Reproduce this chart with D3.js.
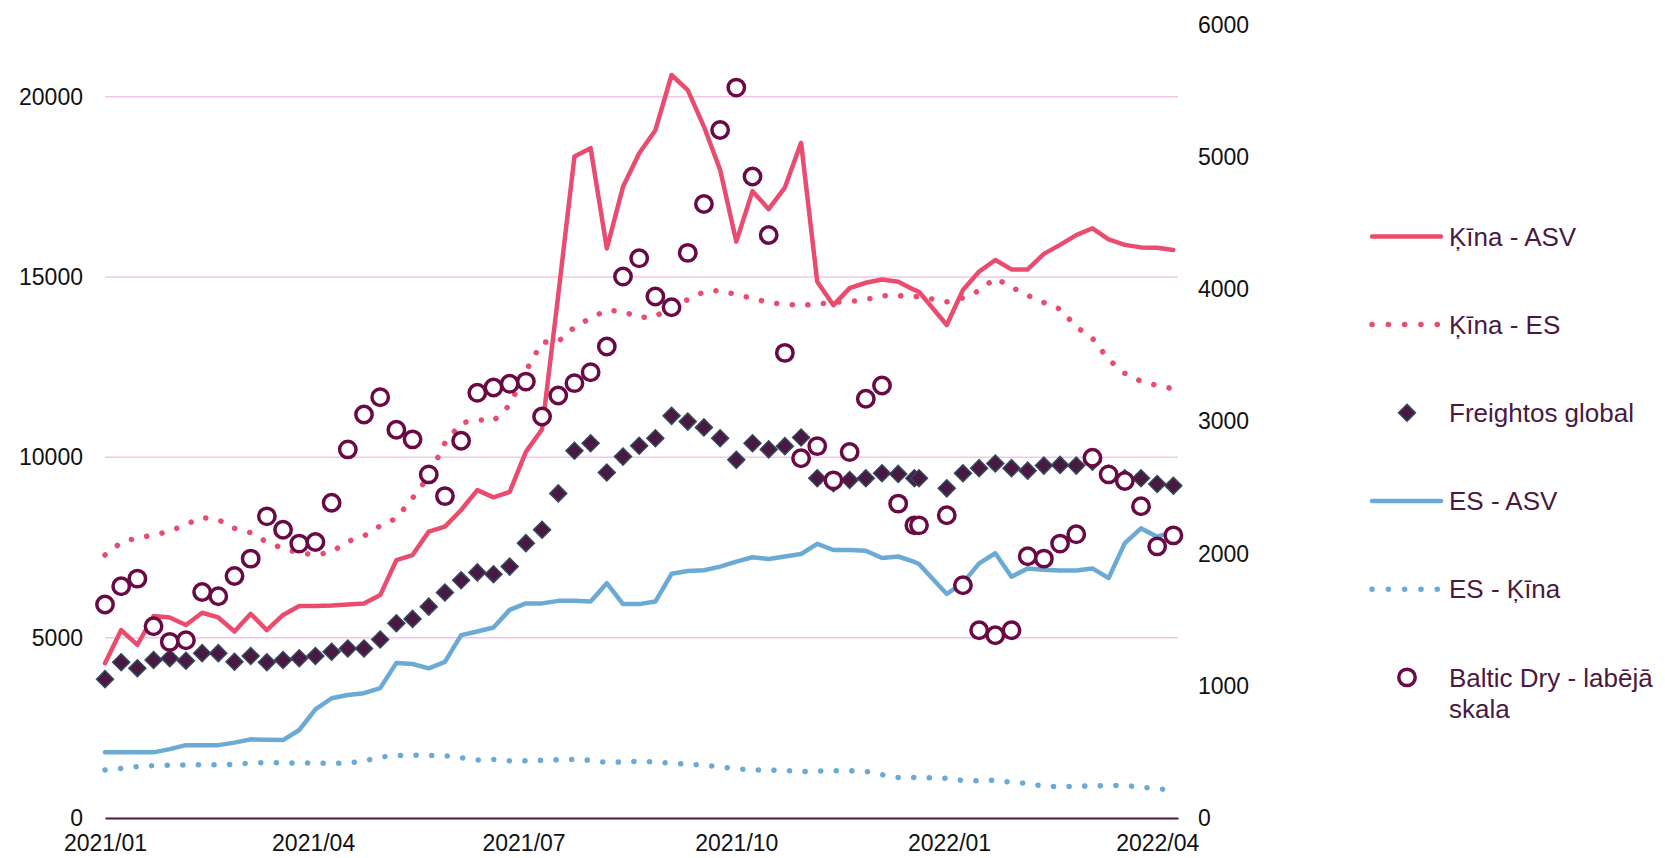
<!DOCTYPE html>
<html>
<head>
<meta charset="utf-8">
<script src="https://cdn.jsdelivr.net/npm/d3@7"></script>
<style>
  body { margin: 0; background: #fff; }
  svg { display: block; font-family: Arial, "Liberation Sans", sans-serif; }
</style>
</head>
<body>
<div id="chart"></div>
<script>
// Weekly observations (one duplicate-ish point before New Year)
const dates = [
  "2021-01-01","2021-01-08","2021-01-15","2021-01-22","2021-01-29","2021-02-05","2021-02-12","2021-02-19",
  "2021-02-26","2021-03-05","2021-03-12","2021-03-19","2021-03-26","2021-04-02","2021-04-09","2021-04-16",
  "2021-04-23","2021-04-30","2021-05-07","2021-05-14","2021-05-21","2021-05-28","2021-06-04","2021-06-11",
  "2021-06-18","2021-06-25","2021-07-02","2021-07-09","2021-07-16","2021-07-23","2021-07-30","2021-08-06",
  "2021-08-13","2021-08-20","2021-08-27","2021-09-03","2021-09-10","2021-09-17","2021-09-24","2021-10-01",
  "2021-10-08","2021-10-15","2021-10-22","2021-10-29","2021-11-05","2021-11-12","2021-11-19","2021-11-26",
  "2021-12-03","2021-12-10","2021-12-17","2021-12-19","2021-12-31","2022-01-07","2022-01-14","2022-01-21",
  "2022-01-28","2022-02-04","2022-02-11","2022-02-18","2022-02-25","2022-03-04","2022-03-11","2022-03-18",
  "2022-03-25","2022-04-01","2022-04-08"
];

const kinaAsv = [
  4290, 5210, 4800, 5600, 5560, 5350, 5690, 5560,
  5170, 5660, 5210, 5630, 5880, 5880, 5890, 5920,
  5950, 6180, 7150, 7290, 7940, 8080, 8540, 9090,
  8890, 9040, 10150, 10780, 14500, 18340, 18570, 15790,
  17500, 18430, 19070, 20600, 20180, 19170, 17970, 15980,
  17380, 16880, 17480, 18720, 14870, 14220, 14690, 14840,
  14930, 14870, 14640, 14590, 13670, 14640, 15150, 15470,
  15210, 15210, 15640, 15890, 16160, 16350, 16040, 15890,
  15820, 15810, 15750
];

const kinaEs = [
  7290, 7640, 7770, 7840, 7950, 8140, 8330, 8270,
  8030, 7910, 7650, 7470, 7350, 7295, 7370, 7670,
  7820, 8100, 8310, 8870, 9470, 10400, 10950, 11040,
  11010, 11450, 12390, 13190, 13210, 13610, 13860, 14080,
  14040, 13880, 13900, 14190, 14370, 14590, 14630, 14510,
  14410, 14290, 14240, 14220, 14240, 14300, 14320, 14370,
  14480, 14480, 14460, 14455, 14310, 14420, 14620, 14970,
  14720, 14490, 14290, 14110, 13620, 13300, 12710, 12330,
  12110, 11990, 11900
];

const freightos = [
  3850, 4320, 4150, 4380, 4430, 4360, 4570, 4570,
  4330, 4490, 4320, 4380, 4430, 4490, 4610, 4700,
  4700, 4950, 5400, 5520, 5860, 6250, 6590, 6810,
  6760, 6970, 7620, 7990, 9000, 10180, 10390, 9580,
  10020, 10320, 10530, 11150, 10990, 10830, 10530, 9930,
  10390, 10220, 10310, 10550, 9420, 9280, 9370, 9420,
  9560, 9540, 9420, 9420, 9140, 9560, 9700, 9830,
  9700, 9630, 9770, 9790, 9770, 9880, 9540, 9420,
  9420, 9260, 9210
];

const esAsv = [
  1820, 1820, 1820, 1820, 1910, 2020, 2020, 2020,
  2090, 2180, 2170, 2160, 2440, 3010, 3320, 3410,
  3460, 3600, 4300, 4270, 4150, 4330, 5070, 5170,
  5280, 5770, 5950, 5950, 6020, 6020, 6000, 6510,
  5930, 5930, 6000, 6770, 6850, 6870, 6970, 7110,
  7230, 7180, 7250, 7320, 7600, 7430, 7430, 7410,
  7210, 7250, 7100, 7040, 6210, 6520, 7060, 7340,
  6690, 6920, 6880, 6860, 6860, 6920, 6650, 7620,
  8030, 7800, 7940
];

const esKina = [
  1330, 1375, 1425, 1455, 1465, 1470, 1475, 1478,
  1490, 1525, 1534, 1528, 1525, 1522, 1515, 1520,
  1580, 1690, 1730, 1737, 1737, 1730, 1670, 1608,
  1620, 1585, 1585, 1600, 1615, 1625, 1600, 1540,
  1555, 1570, 1552, 1515, 1495, 1465, 1420, 1365,
  1335, 1331, 1318, 1290, 1300, 1312, 1310, 1290,
  1200, 1125, 1122, 1125, 1100, 1040, 1035, 1050,
  990, 961, 880, 868, 875, 892, 902, 900,
  860, 810, 780
];

// Baltic Dry index, right-hand scale
const balticDry = [
  1614, 1752, 1810, 1450, 1332, 1344, 1709, 1677,
  1830, 1961, 2281, 2180, 2075, 2087, 2384, 2787,
  3051, 3182, 2936, 2863, 2598, 2434, 2853, 3215,
  3255, 3283, 3300, 3036, 3195, 3288, 3371, 3565,
  4094, 4232, 3943, 3862, 4273, 4643, 5202, 5523,
  4851, 4408, 3517, 2720, 2812, 2553, 2767, 3170,
  3270, 2377, 2213, 2213, 2289, 1760, 1420, 1382,
  1420, 1979, 1961, 2075, 2145, 2724, 2598, 2548,
  2357, 2054, 2137
];

const leftTicks = [0, 5000, 10000, 15000, 20000];
const rightTicks = [0, 1000, 2000, 3000, 4000, 5000, 6000];
const xTickDates = ["2021-01-01", "2021-04-01", "2021-07-01", "2021-10-01", "2022-01-01", "2022-04-01"];

const PINK = "#ea4c6f";
const BLUE = "#6aaad4";
const PLUM = "#4a1942";
const BALTIC = "#6a0a44";

const width = 1665, height = 858;
const plot = { left: 105, right: 1178, top: 24.5, bottom: 818 };

const parse = d3.timeParse("%Y-%m-%d");
const dateObjs = dates.map(parse);

const svg = d3.select("#chart").append("svg")
  .attr("width", width)
  .attr("height", height);

// Scales
const x = d3.scaleTime()
  .domain([parse("2021-01-01"), parse("2022-04-10")])
  .range([plot.left, plot.right]);

const yLeft = d3.scaleLinear().domain([0, 22000]).range([plot.bottom, plot.top]);
const yRight = d3.scaleLinear().domain([0, 6000]).range([plot.bottom, plot.top]);

// Gridlines
svg.append("g")
  .selectAll("line")
  .data(leftTicks.filter(d => d > 0))
  .join("line")
  .attr("x1", plot.left)
  .attr("x2", plot.right)
  .attr("y1", d => yLeft(d))
  .attr("y2", d => yLeft(d))
  .style("stroke", "#f0c8e6")
  .style("stroke-width", 1.5);

// Left axis labels
svg.append("g")
  .selectAll("text")
  .data(leftTicks)
  .join("text")
  .attr("x", 83)
  .attr("y", d => yLeft(d))
  .attr("dy", "0.35em")
  .attr("text-anchor", "end")
  .style("font-size", "23px")
  .style("fill", "#111")
  .text(d => d);

// Right axis labels
svg.append("g")
  .selectAll("text")
  .data(rightTicks)
  .join("text")
  .attr("x", 1198)
  .attr("y", d => yRight(d))
  .attr("dy", "0.35em")
  .style("font-size", "23px")
  .style("fill", "#111")
  .text(d => d);

// X axis
const xAxis = svg.append("g")
  .attr("transform", `translate(0,${plot.bottom})`)
  .call(d3.axisBottom(x)
    .tickValues(xTickDates.map(parse))
    .tickFormat(d3.timeFormat("%Y/%m"))
    .tickSize(0)
    .tickPadding(17));

xAxis.select(".domain").style("stroke", PLUM).style("stroke-width", 2);
xAxis.selectAll("text")
  .style("font-size", "23px")
  .style("font-family", "Arial, 'Liberation Sans', sans-serif")
  .style("fill", "#111");

// Series
const lineGen = scale => d3.line()
  .x((d, i) => x(dateObjs[i]))
  .y(d => scale(d));

const diamond = d3.symbol().type(d3.symbolSquare).size(144);

function drawLine(values, color, dotted) {
  const p = svg.append("path")
    .datum(values)
    .attr("d", lineGen(yLeft))
    .style("fill", "none")
    .style("stroke", color)
    .style("stroke-linejoin", "round")
    .style("stroke-linecap", "round");
  if (dotted) {
    p.style("stroke-width", 5.5).style("stroke-dasharray", "0.1 15.5");
  } else {
    p.style("stroke-width", 4.5);
  }
}

drawLine(kinaAsv, PINK, false);
drawLine(kinaEs, PINK, true);

svg.append("g")
  .selectAll("path")
  .data(freightos)
  .join("path")
  .attr("d", diamond)
  .attr("transform", (d, i) => `translate(${x(dateObjs[i])},${yLeft(d)}) rotate(45)`)
  .style("fill", PLUM)
  .style("stroke", "#34495e")
  .style("stroke-width", 1.5);

drawLine(esAsv, BLUE, false);
drawLine(esKina, BLUE, true);

svg.append("g")
  .selectAll("circle")
  .data(balticDry)
  .join("circle")
  .attr("cx", (d, i) => x(dateObjs[i]))
  .attr("cy", d => yRight(d))
  .attr("r", 8.2)
  .style("fill", "#fff")
  .style("stroke", BALTIC)
  .style("stroke-width", 3.5);

// Legend
const legendItems = [
  { label: ["Ķīna - ASV"], kind: "line", color: PINK },
  { label: ["Ķīna - ES"], kind: "dots", color: PINK },
  { label: ["Freightos global"], kind: "diamond" },
  { label: ["ES - ASV"], kind: "line", color: BLUE },
  { label: ["ES - Ķīna"], kind: "dots", color: BLUE },
  { label: ["Baltic Dry - labējā", "skala"], kind: "circle" }
];

const legend = svg.append("g").attr("class", "legend");

legendItems.forEach((item, k) => {
  const ly = 236.4 + k * 88.2;
  const g = legend.append("g").attr("transform", `translate(0,${ly})`);

  if (item.kind === "line" || item.kind === "dots") {
    const l = g.append("line")
      .attr("x1", 1372)
      .attr("x2", 1441)
      .style("stroke", item.color)
      .style("stroke-linecap", "round");
    if (item.kind === "dots") {
      l.style("stroke-width", 5.5).style("stroke-dasharray", "0.1 16.2");
    } else {
      l.style("stroke-width", 4.5);
    }
  } else if (item.kind === "diamond") {
    g.append("path")
      .attr("d", diamond)
      .attr("transform", "translate(1407,0) rotate(45)")
      .style("fill", PLUM)
      .style("stroke", "#34495e")
      .style("stroke-width", 1.5);
  } else {
    g.append("circle")
      .attr("cx", 1407)
      .attr("r", 8.2)
      .style("fill", "#fff")
      .style("stroke", BALTIC)
      .style("stroke-width", 3.5);
  }

  item.label.forEach((t, j) => {
    g.append("text")
      .attr("x", 1449)
      .attr("y", j * 32)
      .attr("dy", "0.35em")
      .style("font-size", "26px")
      .style("fill", PLUM)
      .text(t);
  });
});
</script>
</body>
</html>
